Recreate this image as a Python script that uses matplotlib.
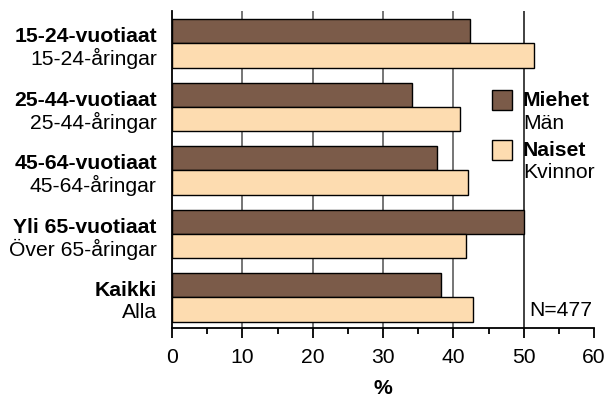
import matplotlib
matplotlib.use("Agg")
import matplotlib.pyplot as plt
from matplotlib.patches import Rectangle
from matplotlib.transforms import blended_transform_factory
import numpy as np

plt.rcParams['font.family'] = ['Liberation Sans', 'DejaVu Sans']

labels_fi = ["15-24-vuotiaat", "25-44-vuotiaat", "45-64-vuotiaat", "Yli 65-vuotiaat", "Kaikki"]
labels_sv = ["15-24-åringar", "25-44-åringar", "45-64-åringar", "Över 65-åringar", "Alla"]
miehet = [42.3, 34.1, 37.7, 50.0, 38.2]
naiset = [51.4, 40.9, 42.1, 41.8, 42.8]
xticks = [0, 10, 20, 30, 40, 50, 60]
legend_fi = ["Miehet", "Naiset"]
legend_sv = ["Män", "Kvinnor"]
note = "N=477"

c_dark = "#7b5b49"
c_light = "#fddcb0"
FS = 15.2

fig = plt.figure(figsize=(6.11, 4.02), dpi=100)
ax = fig.add_axes([172/611, 1-329/402, 422/611, (329-12)/402])

y = np.arange(len(labels_fi))
h = 0.383
ax.barh(y - h/2, miehet, height=h, color=c_dark, edgecolor="black", linewidth=1, zorder=3)
ax.barh(y + h/2, naiset, height=h, color=c_light, edgecolor="black", linewidth=1, zorder=3)

ax.set_xlim(0, 60)
ax.set_ylim(4.483, -0.509)
for v in [10, 20, 30, 40, 50]:
    ax.axvline(v, color="#6a6a6a" if v < 50 else "#333333", lw=1.3, zorder=1)

for s in ["top", "right"]:
    ax.spines[s].set_visible(False)
ax.spines["left"].set_linewidth(1.3)
ax.spines["bottom"].set_linewidth(1.3)
ax.set_yticks([])
ax.set_xticks(xticks)
ax.set_xticks(np.arange(5, 60, 10), minor=True)
ax.tick_params(axis="x", which="major", length=7.5, width=1.3, labelsize=FS, pad=6)
ax.tick_params(axis="x", which="minor", length=4, width=1.3)
ax.set_xlabel("%", fontsize=FS, fontweight="bold", labelpad=9)

tr = blended_transform_factory(ax.transAxes, ax.transData)
for i in range(len(labels_fi)):
    ax.text(-0.036, i - 0.12, labels_fi[i], transform=tr, ha="right", va="center",
            fontsize=FS, fontweight="bold")
    ax.text(-0.036, i + 0.225, labels_sv[i], transform=tr, ha="right", va="center",
            fontsize=FS)

# legend
def fx(px): return px/611
def fy(py): return 1 - py/402
for k, (col, top) in enumerate([(c_dark, 91), (c_light, 141)]):
    fig.patches.append(Rectangle((fx(492), fy(top+20)), 20/611, 20/402, transform=fig.transFigure,
                                 facecolor=col, edgecolor="black", lw=1))
fig.text(fx(523), fy(100), legend_fi[0], fontsize=FS, fontweight="bold", va="center", ha="left")
fig.text(fx(523), fy(124), legend_sv[0], fontsize=FS, va="center", ha="left")
fig.text(fx(523), fy(151), legend_fi[1], fontsize=FS, fontweight="bold", va="center", ha="left")
fig.text(fx(523), fy(172), legend_sv[1], fontsize=FS, va="center", ha="left")
fig.text(fx(592), fy(310), note, fontsize=FS, va="center", ha="right")

fig.savefig("out.png", dpi=100)
